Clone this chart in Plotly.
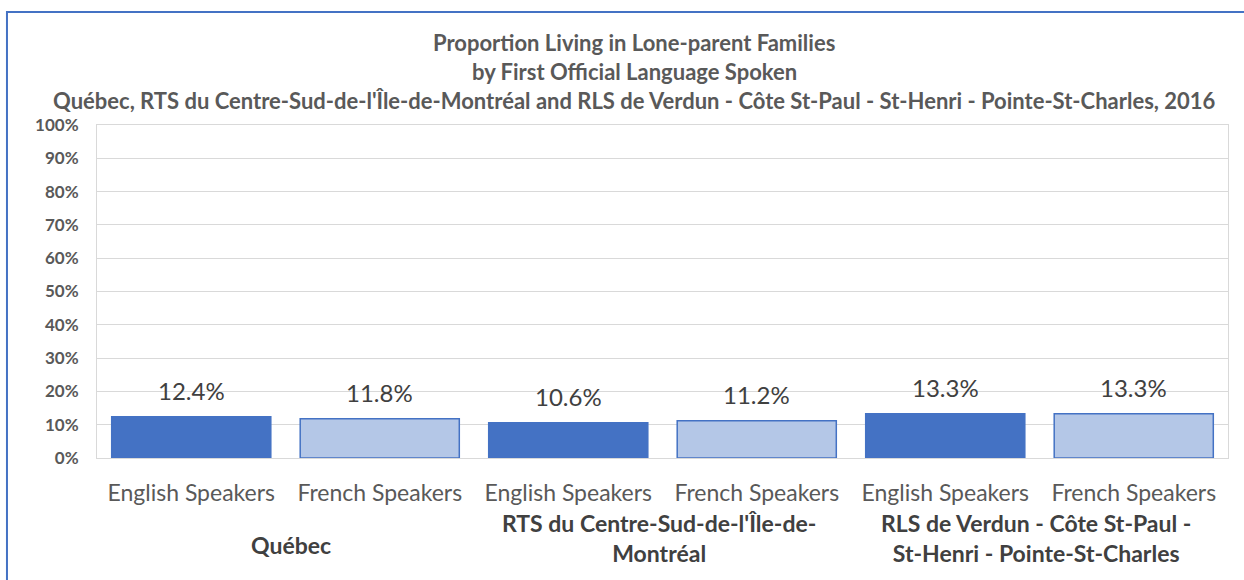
import plotly.graph_objects as go

regions = ["Québec", "RTS du Centre-Sud-de-l'Île-de-<br>Montréal", "RLS de Verdun - Côte St-Paul -<br>St-Henri - Pointe-St-Charles"]
speakers = ["English Speakers", "French Speakers"]
values = [12.4, 11.8, 10.6, 11.2, 13.3, 13.3]
labels = ["12.4%", "11.8%", "10.6%", "11.2%", "13.3%", "13.3%"]
yticks = [0, 10, 20, 30, 40, 50, 60, 70, 80, 90, 100]
title_lines = ["Proportion Living in Lone-parent Families",
               "by First Official Language Spoken",
               "Québec, RTS du Centre-Sud-de-l'Île-de-Montréal and RLS de Verdun - Côte St-Paul - St-Henri - Pointe-St-Charles, 2016"]

cats = [f"c{i}" for i in range(6)]
ticktext = [speakers[i % 2] for i in range(6)]
fills = ["#4472C4" if i % 2 == 0 else "#B4C7E7" for i in range(6)]

FONT = "Lato"
fig = go.Figure()
fig.add_trace(go.Bar(x=cats, y=values, marker=dict(color=fills, line=dict(color="#4472C4", width=1.5)),
                     hoverinfo="skip", showlegend=False))

ann = []
for c, v, t in zip(cats, values, labels):
    ann.append(dict(x=c, y=v, xref="x", yref="y", text=t, showarrow=False, yanchor="bottom", yshift=10,
                    font=dict(family=FONT, size=24, color="#404040")))
for gi, g in enumerate(regions):
    ann.append(dict(x=gi * 2 + 0.5, y=-0.24 if "<br>" in g else -0.261, xref="x", yref="paper", text="<b>" + g + "</b>",
                    showarrow=False, yanchor="middle", xshift=(5 if gi == 0 else -4),
                    font=dict(family=FONT, size=23, color="#404040")))
for ty, t in zip([1.249, 1.162, 1.075], title_lines):
    ann.append(dict(x=0.475, y=ty, xref="paper", yref="paper", text="<b>" + t + "</b>", showarrow=False,
                    yanchor="middle", font=dict(family=FONT, size=22, color="#595959")))

fig.update_layout(
    width=1244, height=580, margin=dict(l=97, r=16, t=125, b=122),
    paper_bgcolor="white", plot_bgcolor="white", bargap=0.156,
    annotations=ann,
    shapes=[dict(type="rect", xref="paper", yref="paper", x0=-0.0796, x1=1.03, y0=-0.45, y1=1.339,
                 line=dict(color="#4472C4", width=2), fillcolor="rgba(0,0,0,0)", layer="below")],
    xaxis=dict(tickmode="array", tickvals=cats, ticktext=ticktext, ticks="outside", ticklen=14,
               tickcolor="rgba(0,0,0,0)", showline=True, linecolor="#D9D9D9", mirror=True,
               tickfont=dict(family=FONT, size=23, color="#595959")),
    yaxis=dict(range=[0, 100], tickvals=yticks, ticktext=[f"{v}%" for v in yticks], showgrid=True,
               gridcolor="#D9D9D9", ticks="outside", ticklen=14, tickcolor="rgba(0,0,0,0)",
               showline=True, linecolor="#D9D9D9", mirror=True, zeroline=False,
               tickfont=dict(family=FONT, size=17, color="#595959", weight="bold")),
)
fig.write_html("out.html", config={"displayModeBar": False},
               post_script="document.body.style.margin='0';")
